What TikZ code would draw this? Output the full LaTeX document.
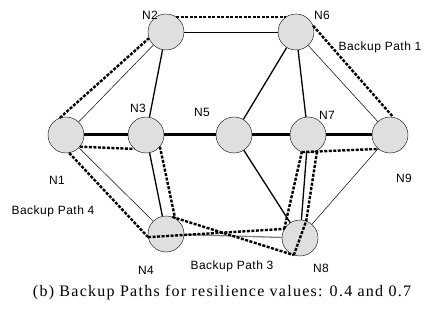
\documentclass[tikz,border=0pt]{standalone}
\usepackage{fontspec}
\setmainfont{Liberation Serif}
\setsansfont{Liberation Sans}
\tikzstyle{router}=[
    circle,
    draw,
    fill=gray!25,
    minimum size=36pt,
    inner sep=0pt,
  ]
\tikzstyle{lbl}=[
    font=\sffamily\fontsize{12}{14}\selectfont\addfontfeature{LetterSpace=4},
  ]
\tikzstyle{thinlink}=[
    line width=0.5pt,
  ]
\tikzstyle{link}=[
    line width=1.3pt,
  ]
\tikzstyle{trunk}=[
    line width=3pt,
  ]
\tikzstyle{backup}=[
    line width=2.4pt,
    dash pattern=on 3pt off 1.5pt,
  ]

\begin{document}
\begin{tikzpicture}[x=1pt,y=-1pt]
      \useasboundingbox (0,0) rectangle (431,320);
      \foreach \n/\x/\y in {N1/66/135, N2/166/32, N3/146/135, N5/234/135,
        N6/296/32, N7/308/135, N9/390/135, N4/166/234, N8/300/238} {%
        \node[router] (\n) at (\x, \y) {};
      }
      % node labels
      \node[lbl] (l2) at (150,15) {N2};
      \node[lbl] (l6) at (322,15) {N6};
      \node[lbl] (l3) at (138,108) {N3};
      \node[lbl] (l5) at (202,112) {N5};
      \node[lbl] (l7) at (327,115) {N7};
      \node[lbl] (l9) at (404,178) {N9};
      \node[lbl] (l1) at (57,180) {N1};
      \node[lbl] (l4) at (146,270) {N4};
      \node[lbl] (l8) at (321,268) {N8};
      \node[lbl] (p1) at (380,47) {Backup Path 1};
      \node[lbl] (p4) at (53,211) {Backup Path 4};
      \node[lbl] (p3) at (232,266) {Backup Path 3};
      \node[font=\fontsize{16}{18}\selectfont\addfontfeature{LetterSpace=8}] (cap) at (222,293)
        {(b) Backup Paths for resilience values: 0.4 and 0.7};
      % links
      \draw[thinlink] (N1) to (N2);
      \draw[thinlink] (N2) to (N6);
      \draw[thinlink] (N6) to (N9);
      \draw[thinlink] (N1) to (N4);
      \draw[thinlink] (N8) to (N9);
      \draw[link, gray] (N4) to (N8);
      \draw[link] (N2) to (N3);
      \draw[link] (N3) to (N4);
      \draw[link] (N6) to (N5);
      \draw[link] (N6) to (N7);
      \draw[link] (N5) to (N8);
      \draw[link] (N7) to (N8);
      \draw[trunk] (N1) to (N3);
      \draw[trunk] (N3) to (N5);
      \draw[trunk] (N5) to (N7);
      \draw[trunk] (N7) to (N9);
      % backup paths
      \draw[backup] (N1.110) to (N2.200);
      \draw[backup] (N2.55) to (N6.125);
      \draw[backup] (N6.20) to (N9.80);
      \draw[backup] (N1.-40) to (N3.-130);
      \draw[backup] (N3.-40) to (N4.60);
      \draw[backup] (N1.-80) to (N4.190);
      \draw[backup] (N4.190) to (N8.150);
      \draw[backup] (N4.70) to (N8.-110);
      \draw[backup] (N8.150) to (N7.-110);
      \draw[backup] (N8.-110) to (N8.70) to (N7.-60);
      \draw[backup] (N7.-110) to (N9.-130);
      \end{tikzpicture}
\end{document}
